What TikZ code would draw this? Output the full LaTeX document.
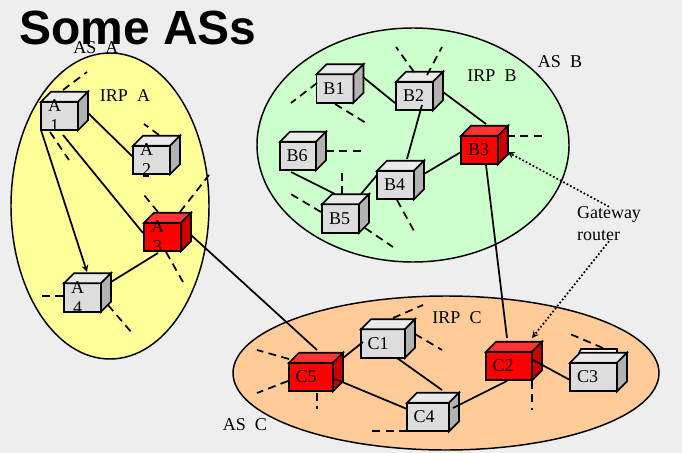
\documentclass[tikz,border=0pt]{standalone}
\usepackage{fontspec}
\setmainfont{Liberation Serif}
\newfontfamily\titlefont{Liberation Sans}
\usetikzlibrary{shapes.geometric, positioning, calc}
\definecolor{pagegray}{RGB}{238,238,238}
\definecolor{asyellow}{RGB}{255,255,153}
\definecolor{asgreen}{RGB}{204,255,204}
\definecolor{asorange}{RGB}{255,204,153}
\definecolor{boxfront}{RGB}{221,221,221}
\definecolor{boxtop}{RGB}{234,234,234}
\definecolor{boxside}{RGB}{178,178,178}
\definecolor{redfront}{RGB}{255,0,0}
\definecolor{redtop}{RGB}{255,51,51}
\definecolor{redside}{RGB}{204,0,0}
\tikzset{
    areashape/.style={ellipse, draw=black, line width=1.1pt, inner sep=0pt},
    routerbox/.style={rectangle, draw=black, line width=1.3pt, inner sep=0pt, outer sep=0pt},
    routerface/.style={draw=black, line width=1.3pt, line join=miter},
    routertext/.style={align=center, inner sep=0pt, font=\fontsize{13.5}{15}\selectfont},
    plaintext/.style={inner sep=0pt, font=\fontsize{13.5}{15}\selectfont},
    link/.style={draw=black, line width=1.3pt},
    stub/.style={draw=black, line width=1.3pt, dash pattern=on 6pt off 4pt},
    pointer/.style={draw=black, line width=1.3pt, dash pattern=on 1.3pt off 1.6pt, -stealth},
}
\begin{document}
\begin{tikzpicture}[x=0.75pt, y=-0.75pt]
        \fill[pagegray] (0,0) rectangle (682,453);
        \useasboundingbox (0,0) rectangle (682,453);

        % Areas
        \node[areashape, fill=asyellow, minimum width=148.5pt, minimum height=229.5pt] (areaA) at (110,206) {};
        \node[areashape, fill=asgreen, minimum width=234pt, minimum height=175.5pt] (areaB) at (413,145) {};
        \node[areashape, fill=asorange, minimum width=319.5pt, minimum height=115.5pt] (areaC) at (446,373) {};

        % Titles and labels
        \node[anchor=base west, inner sep=0pt, font=\titlefont\bfseries\fontsize{36}{40}\selectfont] (title) at (19,45) {Some ASs};
        \node[plaintext] (asA) at (96,48) {AS~~A};
        \node[plaintext] (irpA) at (125,96) {IRP~~A};
        \node[plaintext] (irpB) at (492,76) {IRP~~B};
        \node[plaintext] (asB) at (560,62) {AS~~B};
        \node[plaintext] (irpC) at (457,318) {IRP~~C};
        \node[plaintext] (asC) at (245,425) {AS~~C};
        \node[plaintext, align=left, font=\fontsize{13.5}{16.5}\selectfont] (gateway) at (609,224) {Gateway\\router};

        % Second top edge behind C3
        \draw[routerface, fill=white] (579,353) -- (581,349) -- (617,349) -- (617,353);

        % Routers
        \foreach \name/\x/\y/\w/\lab/\dx/\col in {
            A1/59.5/116/37/{A\\1}/-5/box, A2/151.5/160/37/{A\\2}/-5/box, A3/162.5/237/37/{A\\3}/-5/red, A4/82.5/297.5/37/{A\\4}/-5/box,
            B1/335/88.5/37/B1/-1/box, B2/414.5/96/37/B2/-1/box, B3/479.5/150/37/B3/-1/red,
            B4/395.5/185/37/B4/-1/box, B5/340.5/218.5/37/B5/-1/box, B6/298/156/36/B6/-1/box,
            C1/383/343.5/44/C1/-5/box, C2/509/366/46/C2/-6/red, C3/593.5/377/47/C3/-6/box,
            C4/428/417/42/C4/-4/box, C5/311/377/44/C5/-5/red} {
        \node[routerbox, fill=\col front, minimum width=\w*0.75pt, minimum height=21.4pt] (\name) at (\x,\y) {};
        \draw[routerface, fill=\col top] (\name.north west) -- ([shift={(10,-10)}]\name.north west) -- ([shift={(10,-10)}]\name.north east) -- (\name.north east) -- cycle;
        \draw[routerface, fill=\col side] (\name.north east) -- ([shift={(10,-10)}]\name.north east) -- ([shift={(10,-10)}]\name.south east) -- (\name.south east) -- cycle;
        \node[routertext] (\name text) at ([xshift=\dx*0.75pt]\name.center) {\lab};
        }

        % Links between routers
        \foreach \a/\ax/\ay/\b/\bx/\by in {
            A1/28.5/-3/A2/-18.5/-3, A1/3.5/19/A3/-19.5/-4, A4/28.5/-15.5/A3/-4.5/16, A3/28.5/-2/C5/6/-27,
            B1/28/-11.5/B2/-19.5/7, B2/28.5/-4/B3/6.5/-26, B2/7.5/9/B4/11.5/-26, B3/-18.5/2/B4/28.5/-11,
            B4/-18.5/-10/B5/20.5/-24.5, B6/-7/16/B5/-5.5/-24.5, B3/6.5/15/C2/-2/-28,
            C1/-20/-1.5/C5/32/-19, C1/14/14.5/C4/14/-27, C5/24/2/C4/-21/-8, C2/-2/15/C4/25/-9, C2/24/-6/C3/-23.5/3} {
        \draw[link] ([shift={(\ax,\ay)}]\a.center) -- ([shift={(\bx,\by)}]\b.center);
        }
        \draw[link, -stealth] ([shift={(-18.5,14)}]A1.center) -- ([shift={(4.5,-25.5)}]A4.center);

        % Dashed stubs with free ends
        \foreach \from/\sx/\sy/\ex/\ey [count=\n] in {
            A1/3.5/-26/87/72, A1/-9.5/16/69/160, A2/7.5/-25/144/124, A3/-4.5/-25/144/195, A3/17.5/-25/209/175, A3/3.5/15/183/282,
            A4/-19.5/-1.5/42/296, A4/25.5/7.5/132/333,
            B1/-18/-5.5/291/103, B1/0/15.5/366/123, B2/-0.5/-24/396/47, B2/12.5/-21/442/47, B3/27.5/-14/542/136,
            B4/1.5/15/414/231, B5/-19.5/-6.5/289/193, B5/24.5/9.5/393/247, B5/1.5/-24.5/342/172, B6/28/-5/361/151,
            C1/10/-25.5/423/305, C1/32/-9.5/442/350, C5/-22/-18/257/350, C5/-23/4/257/393, C5/6/16/317/409,
            C4/-21/14/371/431, C2/23/15/532/410, C3/9.5/-29/570/334} {
        \coordinate (free\n) at (\ex,\ey);
        \draw[stub] ([shift={(\sx,\sy)}]\from.center) -- (free\n);
        }
        \draw[stub] ([shift={(-9,16)}]A2.center) -- ([shift={(-3,16)}]A2.center);

        % Gateway pointers
        \draw[pointer] (gateway.north) -- ([shift={(28,2)}]B3.center);
        \draw[pointer] (gateway.south) -- ([shift={(23,-28)}]C2.center);
\end{tikzpicture}
\end{document}
